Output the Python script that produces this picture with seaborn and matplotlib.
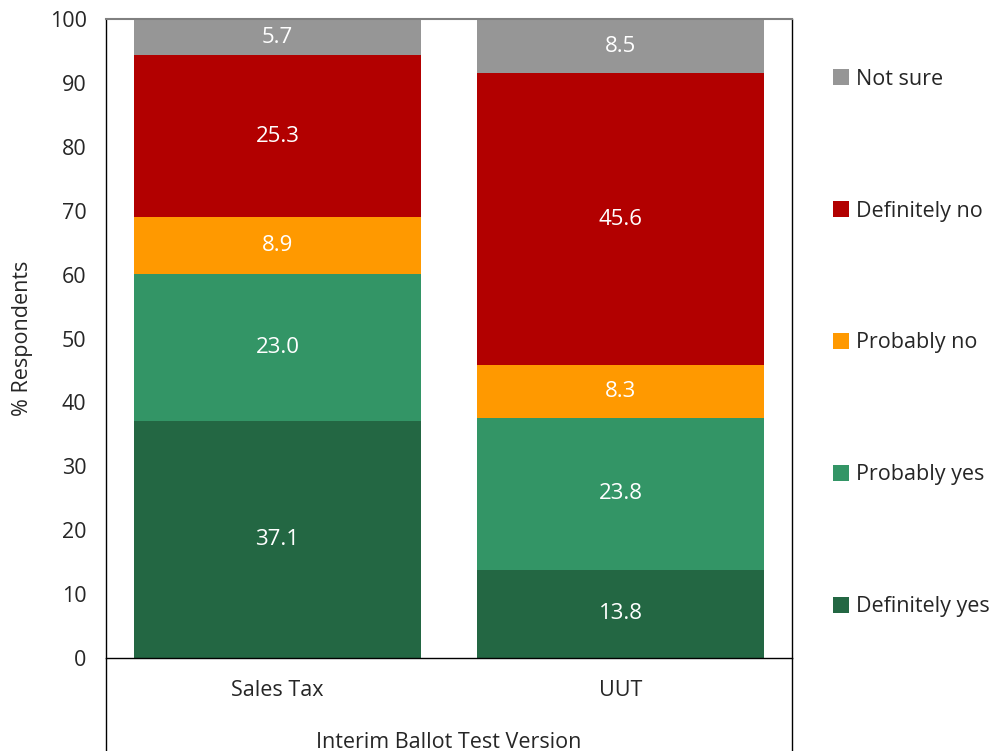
import numpy as np
import pandas as pd
import matplotlib
matplotlib.use("Agg")
import matplotlib.pyplot as plt
import seaborn as sns

categories = ["Sales Tax", "UUT"]
responses = ["Definitely yes", "Probably yes", "Probably no", "Definitely no", "Not sure"]
definitely_yes = [37.1, 13.8]
probably_yes = [23.0, 23.8]
probably_no = [8.9, 8.3]
definitely_no = [25.3, 45.6]
not_sure = [5.7, 8.5]
colors = ["#236743", "#339566", "#FF9900", "#B20000", "#969696"]

sns.set_style("white")
plt.rcParams["font.family"] = ["Open Sans", "DejaVu Sans"]
FS = 15.5

df = pd.DataFrame(
    [definitely_yes, probably_yes, probably_no, definitely_no, not_sure],
    index=responses, columns=categories,
)
cum = df.cumsum()

fig = plt.figure(figsize=(10.04, 7.51), dpi=100)
ax = fig.add_axes([0.1056, 0.1238, 0.6833, 0.8509])

# draw from the top layer down so each shorter bar sits over the taller one
for name, col in zip(responses[::-1], colors[::-1]):
    sns.barplot(x=categories, y=cum.loc[name].values, color=col, saturation=1,
                width=0.835, label=name, ax=ax, legend=False, linewidth=0)

for i, cat in enumerate(categories):
    bottom = 0
    for name in responses:
        v = df.loc[name, cat]
        ax.text(i, bottom + v / 2, f"{v:.1f}", ha="center", va="center",
                color="white", fontsize=16)
        bottom += v

ax.set_xlim(-0.5, 1.5)
ax.set_ylim(0, 100)
ax.set_yticks(range(0, 101, 10))
ax.tick_params(axis="both", length=0, labelsize=FS)
ax.tick_params(axis="y", pad=14)
ax.tick_params(axis="x", pad=16)
ax.set_ylabel("% Respondents", fontsize=FS, labelpad=12)
ax.set_xlabel("Interim Ballot Test Version", fontsize=FS, labelpad=22)

for side in ["left", "right", "bottom"]:
    ax.spines[side].set_color("black")
    ax.spines[side].set_linewidth(1)
ax.spines["top"].set_color("#808080")
ax.spines["top"].set_linewidth(1.5)

# the frame continues below the axis around the category labels
for xa in (0, 1):
    ax.plot([xa, xa], [0, -0.2], transform=ax.transAxes, color="black",
            lw=1, clip_on=False)

handles = [c.patches[0] for c in ax.containers]
ax.legend(handles, responses[::-1], loc="center left", bbox_to_anchor=(1.06, 0.493),
          frameon=False, fontsize=FS, borderpad=0, borderaxespad=0,
          handlelength=0.75, handleheight=0.75, handletextpad=0.3, labelspacing=5.15)

fig.savefig("out.png", dpi=100)
